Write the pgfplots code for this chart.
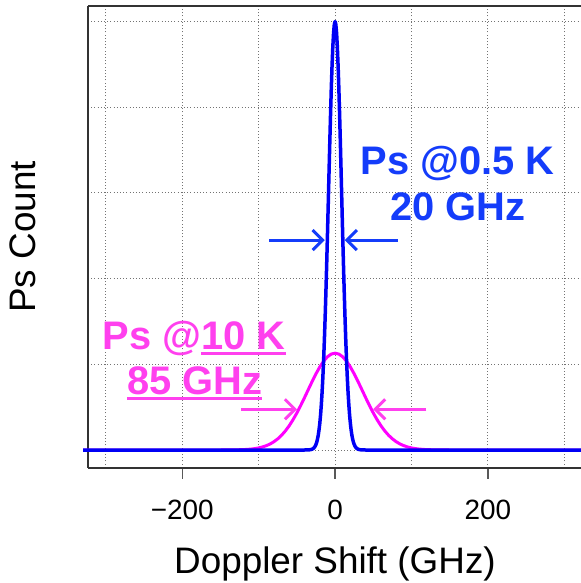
\documentclass[border=0pt]{standalone}
\usepackage{fontspec}
\setmainfont{Liberation Sans}
\usepackage{pgfplots}
\pgfplotsset{compat=1.18}
\usetikzlibrary{arrows.meta}
\definecolor{txtblue}{RGB}{20,60,250}
\definecolor{txtmag}{RGB}{255,64,238}
\definecolor{curveblue}{RGB}{0,0,245}
\definecolor{curvemag}{RGB}{255,0,255}
\newcommand\ul[1]{\setbox0\hbox{#1}\rlap{\raisebox{-5bp}{\rule{\wd0}{2.6bp}}}\box0}
\begin{document}
\begin{tikzpicture}
\begin{axis}[
  scale only axis,
  width=493bp, height=461.7bp,
  xmin=-323.5, xmax=322,
  ymin=-0.2065, ymax=5.181,
  axis x line*=bottom, axis y line*=left,
  axis line style={-, black!80, line width=1.6bp},
  xtick={-200,0,200},
  xticklabels={−200,0,200},
  minor xtick={-300,-100,100,300},
  ytick={0,1,2,3,4,5},
  yticklabels={},
  y tick style={draw=none},
  x tick style={black!65, line width=1.6bp},
  tick align=outside,
  major tick length=11bp,
  minor tick length=0bp,
  xmajorgrids, xminorgrids, ymajorgrids,
  grid style={black!55, line width=0.9bp, dash pattern=on 1bp off 2.2bp},
  minor grid style={black!55, line width=0.9bp, dash pattern=on 1bp off 2.2bp},
  /pgf/number format/assume math mode=true,
  xticklabel style={font=\fontsize{28}{32}\selectfont, yshift=-18bp},
  xlabel={Doppler Shift (GHz)},
  ylabel={Ps Count},
  xlabel style={font=\fontsize{37}{42}\selectfont, at={(axis description cs:0.501,-0.208)}, anchor=center},
  ylabel style={font=\fontsize{37}{42}\selectfont, at={(axis description cs:-0.132,0.5)}, anchor=center},
  clip=false,
]
\addplot[curvemag, line width=3bp, line join=round] coordinates {
(-330,0) (-150,0) (-140,0.0005) (-130,0.0017) (-120,0.0045) (-115,0.0071) (-110,0.0109)
(-105,0.0164) (-100,0.0244) (-95,0.0354) (-90,0.0505) (-85,0.0706) (-80,0.0969)
(-75,0.1305) (-70,0.1724) (-65,0.2234) (-60,0.2839) (-55,0.3540) (-50,0.4329)
(-45,0.5195) (-40,0.6115) (-35,0.7062) (-30,0.8000) (-25,0.8890) (-20,0.9692)
(-15,1.0365) (-10,1.0875) (-5,1.1192) (0,1.13)
(5,1.1192) (10,1.0875) (15,1.0365) (20,0.9692) (25,0.8890) (30,0.8000)
(35,0.7062) (40,0.6115) (45,0.5195) (50,0.4329) (55,0.3540) (60,0.2839)
(65,0.2234) (70,0.1724) (75,0.1305) (80,0.0969) (85,0.0706) (90,0.0505)
(95,0.0354) (100,0.0244) (105,0.0164) (110,0.0109) (115,0.0071) (120,0.0045)
(130,0.0017) (140,0.0005) (150,0) (330,0)
};
\addplot[curveblue, line width=3.5bp, line join=round] coordinates {
(-330,0) (-40,0) (-35,0.0010) (-32,0.0041) (-30,0.0097) (-28,0.0218) (-27,0.0319)
(-26,0.0460) (-25,0.0655) (-24,0.0921) (-23,0.128) (-22,0.174) (-21,0.235)
(-20,0.312) (-19,0.409) (-18,0.529) (-17,0.674) (-16,0.847) (-15,1.050)
(-14,1.284) (-13,1.549) (-12,1.842) (-11,2.160) (-10,2.499) (-9,2.851)
(-8,3.208) (-7,3.560) (-6,3.895) (-5,4.204) (-4,4.474) (-3,4.697)
(-2,4.863) (-1,4.965) (0,5)
(1,4.965) (2,4.863) (3,4.697) (4,4.474) (5,4.204) (6,3.895) (7,3.560)
(8,3.208) (9,2.851) (10,2.499) (11,2.160) (12,1.842) (13,1.549) (14,1.284)
(15,1.050) (16,0.847) (17,0.674) (18,0.529) (19,0.409) (20,0.312)
(21,0.235) (22,0.174) (23,0.128) (24,0.0921) (25,0.0655) (26,0.0460)
(27,0.0319) (28,0.0218) (30,0.0097) (32,0.0041) (35,0.0010) (40,0) (330,0)
};
\draw[black!80, line width=1.6bp] (rel axis cs:0,1) -- (rel axis cs:1,1);
% blue annotation
\node[txtblue, anchor=base, font=\fontsize{40}{46}\selectfont\bfseries, inner sep=0pt] at (axis cs:160.7,3.21) {Ps @0.5 K};
\node[txtblue, anchor=base, font=\fontsize{40}{46}\selectfont\bfseries, inner sep=0pt] at (axis cs:160.7,2.68) {20 GHz};
\draw[txtblue, line width=3bp, -{Straight Barb[length=10bp,width=20bp]}] (axis cs:-86,2.45) -- (axis cs:-13.5,2.45);
\draw[txtblue, line width=3bp, -{Straight Barb[length=10bp,width=20bp]}] (axis cs:82,2.45) -- (axis cs:12.7,2.45);
% magenta annotation
\node[txtmag, anchor=base, font=\fontsize{40}{46}\selectfont\bfseries, inner sep=0pt] at (axis cs:-184.4,1.167) {Ps @\ul{10 K}};
\node[txtmag, anchor=base, font=\fontsize{40}{46}\selectfont\bfseries, inner sep=0pt] at (axis cs:-183.8,0.642) {\ul{85 GHz}};
\draw[txtmag, line width=3bp, -{Straight Barb[length=10bp,width=20bp]}] (axis cs:-122.6,0.475) -- (axis cs:-49.8,0.475);
\draw[txtmag, line width=3bp, -{Straight Barb[length=10bp,width=20bp]}] (axis cs:119.7,0.475) -- (axis cs:49.8,0.475);
\end{axis}
\pgfresetboundingbox
\path[use as bounding box] ([xshift=-88bp,yshift=-115.3bp]current axis.south west) rectangle ([yshift=6bp]current axis.north east);
\end{tikzpicture}
\end{document}
